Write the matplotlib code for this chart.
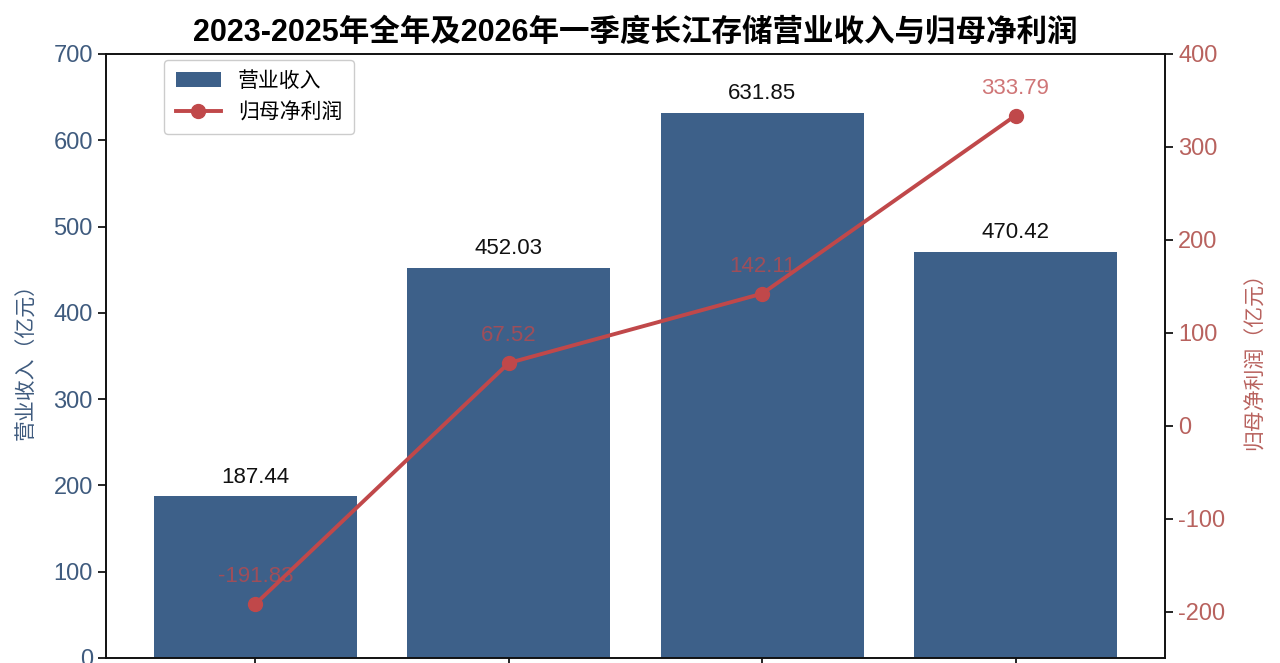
import numpy as np
import matplotlib.pyplot as plt

plt.rcParams['font.family'] = ['Liberation Sans', 'Noto Sans CJK SC', 'DejaVu Sans']
plt.rcParams['axes.unicode_minus'] = False

periods = ['2023年', '2024年', '2025年', '2026年一季度']
revenue = [187.44, 452.03, 631.85, 470.42]
net_profit = [-191.83, 67.52, 142.11, 333.79]

bar_color = '#3d6089'
line_color = '#c0484a'
left_color = '#3f5b7e'
right_color = '#b8625e'


def main():
    fig = plt.figure(figsize=(12.8, 6.63), dpi=100)
    ax = fig.add_axes([106 / 1280, 1 - 658 / 663, (1165 - 106) / 1280, (658 - 54) / 663])
    x = np.arange(len(periods))

    bars = ax.bar(x, revenue, width=0.8, color=bar_color, label='营业收入', zorder=2)
    for xi, v in zip(x, revenue):
        ax.text(xi, v + 10, '{0:.2f}'.format(v), ha='center', va='bottom',
                fontsize=16, color='#111111')

    ax.set_ylim(0, 700)
    ax.set_xlim(-0.59, 3.59)
    # category labels sit below the visible area in the reference crop
    ax.set_xticks(x)
    ax.set_xticklabels([])
    ax.tick_params(axis='y', labelsize=17, labelcolor=left_color, length=6, width=1.2)
    ax.tick_params(axis='x', length=6, width=1.2)
    ax.set_ylabel('营业收入（亿元）', fontsize=15, color=left_color, labelpad=12)

    ax2 = ax.twinx()
    line, = ax2.plot(x, net_profit, color=line_color, lw=2.8, marker='o',
                     markersize=10, label='归母净利润', zorder=3)
    for xi, v in zip(x, net_profit):
        ax2.text(xi, v + 18, '{0:.2f}'.format(v), ha='center', va='bottom',
                 fontsize=16, color=line_color, alpha=0.75)
    ax2.set_ylim(-250, 400)
    ax2.tick_params(axis='y', labelsize=17, labelcolor=right_color, length=6, width=1.2)
    ax2.set_ylabel('归母净利润（亿元）', fontsize=15, color=right_color, labelpad=14)

    for a in (ax, ax2):
        for s in a.spines.values():
            s.set_linewidth(1.2)
            s.set_color('#111111')

    ax.legend([bars, line], ['营业收入', '归母净利润'], loc='upper left',
              bbox_to_anchor=(0.045, 1.008), fontsize=15, framealpha=1,
              handlelength=2.2, borderpad=0.55, labelspacing=0.55)

    ax.set_title('2023-2025年全年及2026年一季度长江存储营业收入与归母净利润',
                 fontsize=22, fontweight='bold', pad=10)

    fig.savefig('out.png', dpi=100)
    plt.close(fig)


if __name__ == '__main__':
    main()
